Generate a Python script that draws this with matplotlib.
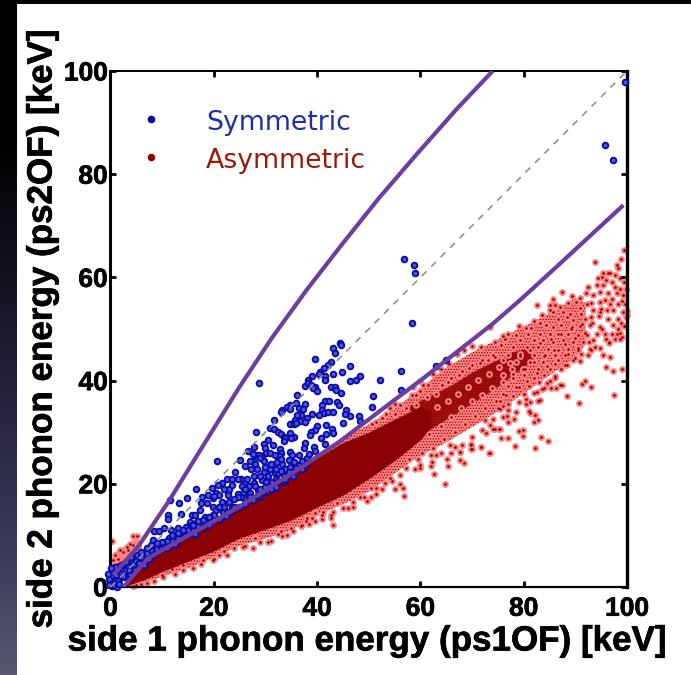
import numpy as np
import matplotlib
matplotlib.use('Agg')
import matplotlib.pyplot as plt
import matplotlib.patheffects as pe
from matplotlib.colors import LinearSegmentedColormap

plt.rcParams['hatch.linewidth'] = 0.6

# symmetric events
sym_hi_x = [99.6, 95.7, 97.3, 56.9, 58.8, 58.9, 58.3, 56.2, 56.3, 63.1, 64.9, 52.1, 50.9, 50.7, 46.3]
sym_hi_y = [97.8, 85.7, 82.8, 63.5, 62.4, 60.8, 51.1, 41.8, 38.1, 42.9, 44.0, 40.2, 37.1, 34.8, 33.2]

sym_mid_x = [44.4, 44.6, 43.1, 43.5, 39.5, 42.7, 42.2, 41.3, 40.6, 40.4, 46.4, 44.9, 43.1, 39.0, 38.3, 41.5, 41.5,
             48.3, 47.6, 46.3, 28.8, 37.6, 38.3, 38.9, 39.6, 39.3, 40.0, 42.6, 43.4, 43.6, 44.6, 36.1, 41.5, 42.3,
             43.8, 44.2, 40.9, 37.7, 34.7, 36.0, 34.1, 33.3, 33.1, 36.4, 37.3, 34.7, 41.0, 41.4, 39.1, 40.4, 42.2,
             43.0, 45.6, 45.4, 48.1, 48.3, 38.0, 36.8, 36.2, 35.7, 36.6, 37.7, 31.7, 34.7, 35.5, 36.0, 45.1, 40.0,
             41.8, 42.9, 43.0, 39.6, 38.9, 38.7, 30.9, 31.7, 28.2, 32.5, 33.1, 33.5, 34.7, 35.6, 35.0, 33.8, 40.7,
             41.8, 30.4, 29.7, 31.4, 33.5, 37.7, 37.5, 39.4, 39.5, 27.8, 26.7, 29.9, 32.8, 34.7, 33.1, 28.1, 29.3,
             30.2, 41.5]
sym_mid_y = [47.3, 46.9, 46.4, 45.4, 44.1, 43.7, 43.0, 42.5, 41.7, 41.2, 42.8, 41.7, 41.3, 40.8, 40.1, 40.8, 40.2,
             40.8, 40.1, 40.0, 39.5, 39.0, 39.5, 39.1, 38.8, 38.5, 37.9, 38.8, 38.7, 38.2, 37.6, 37.3, 36.1, 36.1,
             35.9, 35.3, 35.2, 35.5, 35.3, 35.7, 34.8, 34.3, 33.9, 34.7, 34.4, 34.4, 34.3, 33.8, 33.6, 33.4, 33.9,
             34.0, 34.3, 33.6, 33.2, 32.2, 32.8, 33.3, 33.3, 32.4, 32.2, 32.0, 32.4, 31.6, 31.5, 31.8, 31.7, 31.2,
             31.4, 30.7, 29.9, 30.5, 30.1, 29.4, 30.9, 30.7, 30.0, 30.1, 29.6, 29.0, 29.8, 29.1, 28.9, 28.8, 28.9,
             29.6, 28.5, 27.8, 27.6, 28.2, 28.0, 26.9, 27.2, 26.4, 27.1, 26.4, 26.9, 26.8, 26.2, 25.9, 25.6, 25.4,
             25.9, 27.8]

sym_low_x = [35.1, 34.6, 33.3, 27.5, 28.8, 29.0, 27.5, 28.0, 29.7, 30.9, 31.8, 32.8, 32.2, 33.7, 27.2, 28.4, 30.9,
             29.7, 31.8, 32.5, 33.1, 36.4, 25.1, 25.3, 26.0, 27.7, 29.3, 30.1, 31.2, 25.4, 26.9, 28.6, 26.4, 25.6,
             27.0, 25.8, 25.3, 20.7, 16.5, 24.1, 22.5, 23.5, 24.7, 21.5, 20.9, 19.6, 20.4, 17.8, 18.9, 19.9, 22.8,
             22.8, 24.7, 24.7, 11.6, 13.3, 14.9, 17.6, 18.6, 21.5, 23.5, 13.6, 11.2, 11.2, 15.7, 17.3, 16.4, 19.9,
             20.5, 21.8, 15.4, 16.7, 18.3, 19.9, 8.4, 10.4, 9.3, 11.8, 13.1, 14.7, 15.7, 13.4, 12.5, 11.4, 14.7,
             8.3, 10.5, 11.8, 13.1, 9.6, 10.9, 8.6, 7.3, 6.4, 5.1, 5.7, 4.1, 3.4, 4.4, 2.5, 1.5, 0.5, 0.2, 0.9,
             1.8, 2.8, 3.8, 1.2, 0.2, 22.5, 24.0, 20.0, 18.5, 17.0, 13.0, 7.0, 8.0, 6.0, 9.0, 10.0, 12.0, 14.0,
             16.0, 0.3, 0.6, 1.0, 1.5, 2.0, 2.5, 3.0, 3.5, 4.5, 5.0, 5.5, 0.1, 0.2, 0.8, 1.2, 0.5, 1.7, 0.1]
sym_low_y = [25.5, 24.6, 23.8, 25.8, 25.6, 25.0, 24.5, 23.9, 24.5, 25.9, 25.6, 25.3, 24.3, 22.8, 22.8, 22.8, 22.8,
             22.2, 22.0, 22.0, 22.4, 23.7, 24.6, 20.9, 20.1, 20.1, 20.7, 20.4, 20.4, 19.5, 19.5, 18.8, 18.5, 18.2,
             18.2, 17.2, 17.5, 24.4, 19.0, 22.3, 20.9, 20.9, 21.0, 20.1, 19.8, 19.1, 18.3, 17.5, 17.8, 17.2, 18.5,
             17.8, 18.1, 17.5, 16.8, 16.3, 17.2, 16.3, 16.2, 16.5, 15.6, 14.1, 13.9, 13.1, 13.9, 14.9, 13.9, 15.6,
             14.9, 14.6, 12.6, 12.6, 13.6, 13.9, 10.9, 11.4, 10.9, 11.0, 11.4, 11.7, 12.0, 10.3, 9.7, 9.5, 10.9,
             9.1, 8.8, 8.8, 9.1, 8.1, 7.8, 7.2, 6.5, 5.5, 6.2, 5.2, 4.9, 3.9, 3.9, 3.3, 3.0, 2.3, 1.3, 1.0,
             1.7, 2.0, 2.6, 0.4, 0.1, 14.5, 15.5, 13.2, 12.5, 11.8, 9.5, 6.6, 7.0, 5.8, 7.4, 8.0, 9.0, 10.2,
             11.2, 0.8, 1.8, 2.4, 1.2, 2.6, 2.2, 3.2, 3.2, 4.4, 5.0, 4.6, 2.8, 3.2, 3.4, 0.0, 0.3, 0.6, 1.9]

# blue events hugging the lower cut and the origin
sym_edge_x = [4.8, 6.5, 7.5, 8.5, 9.8, 11.0, 12.5, 14.4, 15.3, 16.4, 18.0, 19.0, 21.0, 22.3, 23.4, 24.8, 26.0, 27.5,
              29.0, 30.3, 32.0, 33.5, 35.3, 37.0, 7.0, 6.0, 7.8, 4.0, 3.0, 2.0, 0.8, 0.1, -0.3, -0.4, -0.2]
sym_edge_y = [3.3, 4.2, 5.5, 6.3, 7.3, 7.5, 8.4, 9.8, 10.5, 10.2, 11.7, 12.1, 13.2, 13.7, 14.8, 15.6, 16.0, 16.8,
              17.6, 18.6, 19.4, 20.6, 21.6, 22.8, 7.5, 6.8, 8.1, 5.9, 4.8, 4.2, 3.9, 3.7, 1.5, 2.5, 0.3]

# the crowded stretch of blue, x from 9 to 38
sym_dense_x = [26.5, 27.8, 29.0, 30.5, 32.0, 33.5, 34.8, 35.5, 26.0, 27.0, 30.0, 31.0, 33.0, 27.0, 28.5, 29.5, 30.0,
               31.0, 32.5, 33.8, 35.0, 36.0, 37.0, 38.0, 38.5, 36.5, 38.0, 23.0, 24.0, 22.0, 21.0, 20.0, 19.0, 18.0,
               17.0, 16.0, 15.0, 14.0, 13.0, 12.0, 11.0, 10.0, 9.0, 23.0, 22.0, 21.0, 20.0, 23.6, 26.0, 28.0, 29.0,
               32.0, 34.5]
sym_dense_y = [21.0, 21.5, 21.6, 21.5, 21.0, 21.5, 23.2, 24.3, 23.5, 24.5, 23.2, 23.8, 24.8, 17.5, 17.8, 18.5, 19.4,
               19.0, 20.5, 21.0, 22.2, 23.0, 24.5, 25.0, 25.8, 25.5, 24.0, 16.5, 17.0, 15.5, 15.5, 14.0, 13.5, 13.0,
               12.8, 12.0, 11.0, 11.0, 10.4, 10.0, 9.0, 8.8, 8.6, 19.0, 19.0, 17.8, 17.6, 19.8, 19.0, 19.5, 19.0,
               22.8, 22.3]

# asymmetric events: the sparse part of the cloud, top right
asym_top_x = [99.5, 93.9, 98.8, 98.0, 98.3, 96.4, 95.4, 96.8, 97.7, 94.4, 95.1, 96.0, 97.0, 98.6, 99.4, 92.5, 94.1,
              95.4, 97.7, 98.6, 99.8, 94.8, 96.4, 98.0, 99.3, 87.4, 92.0, 93.5, 89.3, 90.9, 85.7, 90.1, 88.6, 82.5,
              85.0, 86.0, 92.2, 94.8, 95.7, 96.7, 98.3, 99.6, 85.1, 85.7, 87.0, 83.5, 87.7, 90.9, 93.5, 94.8, 97.3,
              99.3, 82.0, 83.1, 86.7, 88.3, 89.6, 91.9, 93.1, 96.4, 98.3, 99.8, 79.1, 80.4, 81.5, 84.4, 85.7, 87.3,
              89.3, 90.9, 92.8, 94.8, 97.3, 98.9, 77.0, 78.5, 80.9, 83.1, 85.1, 86.7, 88.6, 90.6, 92.2, 94.1, 95.7,
              98.6, 76.4, 79.3, 81.9, 83.8, 85.7, 87.7, 89.6, 91.5, 93.5, 97.7, 98.6, 96.6, 75.7, 78.0, 80.6, 82.8,
              84.8, 86.7, 88.6, 90.6, 92.8, 95.4, 96.8, 79.3, 81.9, 84.1, 86.0, 88.0, 89.9, 92.5, 90.9, 77.0, 76.0,
              78.6, 81.2, 83.8, 86.0, 88.3, 77.7, 80.2, 82.8, 85.1, 87.3]
asym_top_y = [65.4, 62.9, 63.5, 62.5, 61.9, 60.9, 60.9, 60.9, 60.5, 59.8, 60.1, 59.4, 59.1, 59.8, 59.1, 58.2, 58.5,
              58.5, 58.2, 57.8, 57.8, 57.2, 56.9, 56.9, 56.5, 57.2, 56.9, 56.5, 56.4, 56.1, 55.9, 55.2, 55.1, 54.7,
              54.6, 54.6, 54.9, 55.2, 55.6, 54.9, 54.9, 54.9, 53.6, 53.2, 54.3, 52.7, 53.3, 54.0, 53.6, 53.3, 53.6,
              53.3, 51.6, 51.2, 52.0, 52.3, 51.7, 52.0, 52.3, 52.0, 52.0, 52.3, 50.6, 50.1, 50.1, 50.7, 50.4, 50.7,
              50.4, 50.5, 50.7, 50.4, 50.7, 51.1, 49.0, 48.9, 49.1, 49.1, 49.1, 49.1, 49.0, 48.8, 48.8, 49.1, 49.1,
              49.2, 48.0, 47.8, 47.8, 47.8, 47.5, 47.8, 47.5, 47.5, 47.8, 48.0, 48.1, 47.2, 46.9, 46.5, 46.5, 46.5,
              46.2, 45.9, 46.2, 45.9, 46.2, 44.9, 44.5, 45.2, 44.9, 44.9, 44.9, 44.9, 44.3, 44.9, 43.8, 44.9, 44.0,
              43.6, 43.6, 43.6, 43.3, 43.0, 42.3, 42.3, 42.3, 42.3, 42.3]

# stragglers below the cloud on the right
asym_right_x = [95.9, 97.3, 99.1, 91.9, 91.3, 93.1, 97.5, 90.8, 88.3, 87.5, 87.0, 86.2, 85.2, 83.9, 83.5, 83.1, 82.8,
                81.3, 80.4, 81.0, 81.3, 82.1, 82.8, 81.9, 78.1, 76.8, 79.1, 79.8, 79.9, 83.3, 84.8, 76.9, 75.7, 78.3,
                82.1, 75.4, 73.4, 71.8, 69.9, 67.6, 69.7, 74.4, 73.4, 72.5, 76.0, 78.0, 80.0, 82.0, 84.0, 86.0, 77.0,
                79.0, 81.0, 83.0, 85.0, 76.0, 78.0, 80.0, 82.0, 75.5, 77.0, 79.0, 75.5, 77.0, 76.0]
asym_right_y = [42.6, 41.9, 42.2, 40.0, 39.3, 38.8, 37.2, 35.6, 37.0, 39.2, 39.2, 38.6, 38.6, 38.5, 38.3, 36.2, 36.1,
                35.9, 35.5, 34.2, 33.7, 33.3, 32.3, 31.9, 32.6, 33.1, 30.3, 30.4, 29.3, 29.1, 28.3, 28.8, 28.9, 27.3,
                26.9, 30.6, 26.0, 27.2, 26.8, 26.2, 27.7, 30.7, 31.4, 32.3, 41.0, 40.5, 41.0, 40.5, 41.0, 40.8, 39.0,
                38.7, 39.0, 39.7, 40.0, 37.5, 37.0, 37.5, 37.6, 36.0, 35.5, 35.8, 34.5, 34.3, 35.1]

# edges of the band in the middle
asym_edge_x = [61.5, 60.6, 58.4, 59.2, 60.0, 56.1, 57.3, 54.2, 53.3, 55.0, 51.5, 50.6, 52.5, 64.1, 65.4, 63.1, 61.2,
               59.2, 57.9, 75.0, 74.1, 75.2, 72.7, 71.8, 73.3, 69.7, 69.7, 67.6, 67.6, 68.4, 65.2, 65.4, 62.6, 64.7,
               62.1, 62.3, 59.9, 58.9, 57.3, 56.0, 56.1, 56.6, 56.8, 54.1, 53.1, 51.5, 51.5, 50.5, 65.7, 66.7, 63.1,
               59.6, 67.5, 69.5, 71.5, 73.0, 74.5, 66.0, 68.0, 70.0, 72.0, 74.0, 62.5, 64.0, 65.5, 67.0, 68.5, 70.0,
               71.8, 73.4, 74.5, 76.0, 60.0, 58.5, 55.0, 77.0, 78.5, 80.5, 82.5, 84.5, 86.0, 88.0, 89.5, 91.0, 93.0,
               94.7, 96.5, 98.0, 99.5, 100.0, 60.0, 62.0, 64.0, 66.0, 68.0, 70.0, 72.0, 74.0, 76.0]
asym_edge_y = [39.1, 39.1, 37.2, 37.2, 38.0, 35.3, 34.6, 34.6, 33.6, 33.6, 32.0, 31.6, 32.7, 39.1, 39.8, 37.5, 36.9,
               35.3, 33.6, 34.6, 30.7, 30.7, 29.8, 27.2, 26.0, 27.5, 26.7, 26.2, 24.7, 24.0, 24.9, 23.4, 21.9, 20.0,
               23.4, 24.3, 23.6, 22.8, 23.0, 21.7, 20.0, 19.1, 17.6, 21.2, 20.1, 19.1, 18.1, 19.1, 27.5, 27.2, 25.6,
               24.9, 41.0, 42.5, 43.5, 44.0, 44.5, 40.5, 41.8, 43.0, 44.0, 45.0, 41.2, 42.2, 43.3, 45.2, 46.0, 46.8,
               46.6, 50.4, 47.5, 48.7, 40.0, 38.7, 35.5, 32.0, 34.0, 36.5, 37.8, 39.6, 40.6, 43.0, 44.0, 45.2, 46.0,
               46.3, 47.5, 49.0, 50.5, 52.8, 23.0, 25.5, 26.0, 26.0, 27.5, 29.0, 30.5, 32.5, 33.0]

# lower fringe and the blob at the origin
asym_low_x = [43.0, 42.6, 40.9, 39.6, 38.5, 37.8, 36.8, 35.4, 34.1, 33.3, 32.5, 30.4, 29.0, 27.5, 25.6, 49.6, 48.4,
              47.0, 46.0, 43.8, 42.6, 41.2, 39.6, 38.0, 22.6, 21.0, 19.9, 17.6, 14.1, 10.2, 7.0, 4.4, 0.2, 4.4, 5.2,
              3.8, 3.1, 1.8, 0.9, 0.5, 1.5, 2.5, 4.4, 3.4, 12.0, 14.0, 16.0, 18.0, 20.0, 22.0, 24.0, 26.0, 28.0,
              31.0, 33.0, 35.0, 37.0, 39.0, 41.0, 43.0, 45.0, 47.0, 49.0, 50.5, 52.5, 54.5, 55.0, 5.0, 8.5, 6.0,
              10.0, 12.5]
asym_low_y = [12.1, 13.3, 13.1, 12.8, 12.2, 12.7, 11.8, 10.9, 10.1, 9.9, 10.2, 8.8, 8.8, 7.6, 7.8, 16.6, 17.5,
              15.6, 15.3, 16.2, 14.0, 14.6, 14.3, 13.3, 6.2, 6.2, 5.2, 4.4, 3.3, 1.9, 0.8, 0.1, 8.9, 9.9, 9.9,
              8.4, 7.7, 7.2, 6.2, 5.2, 5.5, 6.8, 8.1, 7.2, 3.5, 4.2, 3.6, 5.2, 5.5, 7.0, 7.5, 8.0, 9.5,
              9.0, 10.8, 11.5, 12.0, 13.4, 13.9, 14.6, 15.4, 16.5, 17.5, 17.5, 19.0, 20.5, 18.9, 0.4, 1.2, 0.6,
              2.4, 2.6]

# events inside the band, x > 50
asym_in_x = [50.5, 52.0, 53.5, 54.5, 55.8, 56.5, 57.8, 58.6, 59.4, 60.3, 61.0, 61.7, 62.5, 63.2, 63.9, 64.6, 65.3,
             66.0, 66.7, 67.2, 67.9, 68.6, 69.2, 69.9, 70.6, 71.2, 71.9, 72.6, 73.2, 73.9, 74.6, 75.3, 75.9, 76.6,
             77.3, 77.9, 78.6, 79.2, 79.9, 80.6, 81.2, 81.9, 82.6, 83.2, 83.9, 84.6, 85.2, 85.9, 86.6, 87.2, 87.9,
             88.6, 89.2, 89.9, 90.6, 91.2, 91.9, 92.6, 93.2, 93.9, 94.6, 95.2, 95.9, 96.2, 97.0, 97.0, 98.2, 99.0,
             99.6, 99.0, 100.0, 95.0, 93.0, 91.0, 89.0]
asym_in_y = [26.0, 23.5, 28.5, 24.5, 30.0, 27.0, 24.8, 31.8, 28.3, 26.0, 33.0, 29.7, 27.0, 34.8, 31.2, 28.6, 36.0,
             33.0, 30.0, 37.5, 34.6, 31.6, 38.8, 36.0, 33.2, 40.2, 37.2, 34.6, 41.3, 38.6, 36.0, 42.6, 39.8, 37.3,
             43.5, 41.2, 38.8, 44.8, 42.3, 40.0, 46.0, 43.6, 41.5, 47.2, 44.7, 42.9, 48.0, 46.0, 44.0, 49.0, 47.0,
             45.2, 50.0, 48.2, 46.4, 51.0, 49.2, 47.5, 51.2, 46.5, 52.5, 50.0, 48.0, 53.6, 55.8, 49.0, 50.0, 48.5,
             50.5, 55.5, 53.5, 53.8, 55.0, 53.0, 53.0]

# envelope of the region too dense to read single events
fringe_x = [2.5, 7, 10, 15, 20, 25, 30, 35, 40, 45, 50, 55, 60, 65, 70, 75, 80, 85, 90, 92]
fringe_lo = [0, 1, 2, 3.6, 5.8, 8, 9.4, 11, 14, 16, 18.5, 22, 25.5, 28, 31, 34, 37.5, 41, 44.5, 47]
fringe_hi = [0.5, 5.8, 7.4, 10.2, 13.1, 16, 19, 22, 25.5, 28.8, 31.5, 34.5, 38.5, 42.5, 45.5, 48, 50.5, 53, 56, 55]
mid_x = [58, 62, 66, 70, 74, 78, 82]
mid_lo = [28, 30.5, 33, 35.5, 38, 41, 44]
mid_hi = [35, 37, 39, 41.5, 43.5, 45.5, 46.5]
core_x = [2.5, 7, 10, 15, 20, 25, 30, 35, 40, 45, 50, 55, 60, 62]
core_lo = [0, 1.6, 3, 5, 7, 9.5, 11.2, 13, 15.5, 17.8, 21, 24.5, 28.5, 31]
core_hi = [0.5, 5.6, 7, 9.8, 12.7, 15.6, 18.6, 21.6, 25, 28, 30, 32.5, 35, 34]
wedge_x = [0.1, 1, 2, 3, 4, 5, 6]
wedge_lo = [2.5, 2.5, 2.5, 3.5, 4.5, 5.5, 6.5]
wedge_hi = [5.5, 7, 7.5, 8.3, 9, 9.5, 8.8]
wedge_core_hi = [3.5, 4.5, 5.0, 5.6, 6.2, 6.8, 7.2]

# cut lines
upper_x = [0.5, 5.4, 11.2, 18, 25, 31.2, 38, 44.5, 52, 59.4, 67, 74]
upper_y = [2.3, 7.9, 16.5, 27.5, 38.8, 48.2, 57.6, 66, 75.4, 84, 92.6, 100]
lower_x = [2.5, 7.3, 24.5, 36.7, 44.5, 52.8, 60.5, 74, 79.4, 86.3, 99.3]
lower_y = [0, 5.6, 15.3, 23, 28.3, 34.6, 40.4, 51, 55.7, 62, 74]

ticks = [0, 20, 40, 60, 80, 100]
bg_stops = ['#000000', '#000000', '#121220', '#26243f', '#38385a', '#565870']

bold = dict(family='Liberation Sans', weight='bold')
heavy = [pe.withStroke(linewidth=0.5, foreground='black')]
purple = '#6a3fa0'
dark_red = '#8b0000'
salmon = '#ff8080'

fig = plt.figure(figsize=(6.91, 6.75), dpi=100)

# slide background: dark band on the left and top
bg = fig.add_axes([0, 0, 1, 1], zorder=-1)
cmap = LinearSegmentedColormap.from_list('slide', bg_stops)
bg.imshow(np.linspace(0, 1, 256).reshape(-1, 1), cmap=cmap, aspect='auto', extent=[0, 691, 675, 0])
bg.fill_between([17, 691], [4, 4], [675, 675], color='white', lw=0)
bg.fill_between([0, 691], [0, 0], [4, 4], color='black', lw=0)
bg.set_xlim(0, 691)
bg.set_ylim(675, 0)
bg.axis('off')

ax = fig.add_axes([110.5 / 691, 88 / 675, 516.5 / 691, 516 / 675])
ax.fill_between(wedge_x, wedge_lo, wedge_hi, color=salmon, lw=0, zorder=1)
ax.fill_between(wedge_x, wedge_lo, wedge_core_hi, color=dark_red, lw=0, zorder=1.1)
ax.fill_between(fringe_x, fringe_lo, fringe_hi, facecolor=salmon, edgecolor=dark_red, hatch='......', lw=0, zorder=1)
ax.fill_between(mid_x, mid_lo, mid_hi, facecolor='#a01010', edgecolor=dark_red, hatch='......', lw=0, zorder=1.02)
ax.fill_between(core_x, core_lo, core_hi, color=dark_red, lw=0, zorder=1.2)

asym_x = asym_top_x + asym_right_x + asym_edge_x + asym_low_x + asym_in_x
asym_y = asym_top_y + asym_right_y + asym_edge_y + asym_low_y + asym_in_y
sym_x = sym_hi_x + sym_mid_x + sym_low_x + sym_edge_x + sym_dense_x
sym_y = sym_hi_y + sym_mid_y + sym_low_y + sym_edge_y + sym_dense_y

ax.scatter(asym_x, asym_y, s=24, c=salmon, linewidths=0, zorder=1.05, clip_on=False)
ax.scatter(asym_x, asym_y, s=3.5, c=dark_red, linewidths=0, zorder=1.06, clip_on=False)

ax.plot([0, 100], [0, 100], color='#909090', lw=1.2, ls=(0, (4, 4)), zorder=3.2)
ax.scatter(sym_x, sym_y, s=17, c='#4a55d8', edgecolors='#0a0aa8', linewidths=1.3, zorder=3, clip_on=False)
ax.plot(upper_x, upper_y, color=purple, lw=3, zorder=4, solid_capstyle='butt')
ax.plot(lower_x, lower_y, color=purple, lw=3, zorder=4, solid_capstyle='butt')

# hand placed legend
ax.scatter([7.8], [90.7], s=30, c='#0000a0', linewidths=0, zorder=3)
ax.scatter([7.8], [83.3], s=30, c=dark_red, linewidths=0, zorder=3)
ax.text(18.5, 90.0, 'Symmetric', color='#1a2fa8', fontsize=19.3, family='DejaVu Sans', va='center')
ax.text(18.5, 82.6, 'Asymmetric', color='#9a1a0a', fontsize=19.3, family='DejaVu Sans', va='center')

ax.set_xlim(0, 100)
ax.set_ylim(0, 100)
ax.set_xticks(ticks)
ax.set_yticks(ticks)
ax.tick_params(direction='in', length=4, width=2, top=True, right=True, pad=2)
ax.tick_params(axis='x', pad=7)
for lab in ax.get_xticklabels() + ax.get_yticklabels():
    lab.set(fontsize=19, path_effects=heavy, **bold)
for side, w in [('left', 2.2), ('bottom', 1.6), ('top', 1.4), ('right', 2.4)]:
    ax.spines[side].set_linewidth(w)

fig.text(367 / 691, 1 - 641 / 675, 'side 1 phonon energy (ps1OF) [keV]', fontsize=25.2, ha='center', va='center',
         path_effects=heavy, **bold)
fig.text(42 / 691, 1 - 329 / 675, 'side 2 phonon energy (ps2OF) [keV]', fontsize=25.2, rotation=90,
         ha='center', va='center', path_effects=heavy, **bold)

fig.savefig('out.png', dpi=100)
